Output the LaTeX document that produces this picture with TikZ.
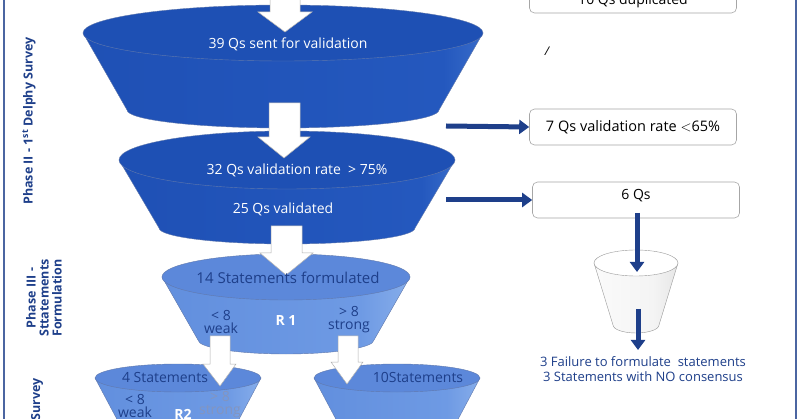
\documentclass[tikz,border=0pt]{standalone}
\usepackage{fontspec}
\setmainfont{Open Sans}
\usetikzlibrary{arrows.meta}
\definecolor{navy}{HTML}{1E3F8A}
\definecolor{dkb}{HTML}{1E50B4}
\definecolor{ltb}{HTML}{5C88DA}
\definecolor{dka}{HTML}{1C4CB0}\definecolor{dkm}{HTML}{2458BE}\definecolor{dkh}{HTML}{6A9CE6}\definecolor{dkw}{HTML}{CFE2FA}\definecolor{dke}{HTML}{3E70CC}
\definecolor{lta}{HTML}{5A88DA}\definecolor{ltm}{HTML}{6E9AE4}\definecolor{lth}{HTML}{A6C6F2}\definecolor{ltw}{HTML}{DDEBFC}\definecolor{lte}{HTML}{7AA4E8}
\definecolor{cpa}{HTML}{FFFFFF}\definecolor{cpm}{HTML}{F4F4F4}\definecolor{cph}{HTML}{D8D8D8}\definecolor{cpe}{HTML}{F0F0F0}
\pgfdeclarehorizontalshading{dkshade}{100bp}{color(0bp)=(dka);color(70bp)=(dkm);color(88bp)=(dkh);color(97bp)=(dkw);color(100bp)=(dke)}
\pgfdeclarehorizontalshading{ltshade}{100bp}{color(0bp)=(lta);color(65bp)=(ltm);color(88bp)=(lth);color(97bp)=(ltw);color(100bp)=(lte)}
\pgfdeclarehorizontalshading{cupshade}{100bp}{color(0bp)=(cpa);color(60bp)=(cpm);color(90bp)=(cph);color(100bp)=(cpe)}
\newcommand\myfunnel[9]{%
  \shade[shading=#8,draw=navy!70,line width=0.4pt]
    ({#1-#3},#2) -- ({#1-#6},#5) arc[start angle=180,end angle=0,x radius=#6,y radius=#7] -- ({#1+#3},#2) -- cycle;
  \fill[#9,draw=navy!70,line width=0.4pt] (#1,#2) ellipse[x radius=#3,y radius=#4];
}
\tikzset{
  wtxt/.style={text=white,font=\fontsize{14}{16}\selectfont},
  ntxt/.style={text=navy,font=\fontsize{14}{13}\selectfont,align=center},
  wbox/.style={draw=gray!70,rounded corners=5pt,fill=white,line width=0.6pt},
  warrow/.style={fill=white,draw=gray!60,line width=0.5pt},
  barrow/.style={draw=navy,line width=5pt,-{Triangle[length=10pt,width=14pt]}},
  side/.style={rotate=90,text=navy,font=\bfseries\fontsize{12.5}{13}\selectfont,align=center},
}
\begin{document}
\begin{tikzpicture}[x=1pt,y=-1pt]
\useasboundingbox (0,0) rectangle (800,419);
\clip (0,0) rectangle (800,419);
\fill[white] (0,0) rectangle (800,419);
\draw[navy!80,line width=2pt] (4,-5) -- (4,425);
\draw[navy!80,line width=2pt] (796,-5) -- (796,425);
% funnels
\myfunnel{283}{33}{200}{28}{110}{156}{18}{dkshade}{dkb}
\myfunnel{287}{160}{168}{29}{228}{128}{16}{dkshade}{dkb}
\myfunnel{286}{277}{124}{23}{340}{88}{14}{ltshade}{ltb}
\myfunnel{178}{378}{83}{14}{440}{50}{10}{ltshade}{ltb}
\myfunnel{397}{378}{83}{14}{440}{50}{10}{ltshade}{ltb}
% cup
\shade[shading=cupshade,draw=gray!80] (594,263) -- (613,325) arc[start angle=180,end angle=0,x radius=23,y radius=8] -- (678,263) -- cycle;
\fill[white,draw=gray!80] (636,263) ellipse[x radius=42,y radius=13];
% white arrows
\draw[warrow] (270,-5) -- (300,-5) -- (300,12) -- (312,12) -- (285,32) -- (258,12) -- (270,12) -- cycle;
\draw[warrow] (269,103) -- (300,103) -- (300,137) -- (310,137) -- (284,158) -- (258,137) -- (269,137) -- cycle;
\draw[warrow] (271,226) -- (302,226) -- (302,253) -- (313,253) -- (286,275) -- (260,253) -- (271,253) -- cycle;
\draw[warrow] (210,336) -- (230,336) -- (230,364) -- (236,364) -- (220,386) -- (203,364) -- (210,364) -- cycle;
\draw[warrow] (338,336) -- (358,336) -- (358,362) -- (363,362) -- (347,384) -- (331,362) -- (338,362) -- cycle;
% funnel texts
\node[wtxt] (t1) at (288,44) {39 Qs sent for validation};
\node[wtxt] (t2) at (297,170) {32 Qs validation rate~ > 75\%};
\node[wtxt] (t3) at (283,209) {25 Qs validated};
\node[ntxt,font=\fontsize{15}{16}\selectfont] (t4) at (288,278) {14 Statements formulated};
\node[ntxt] (t5) at (221,322) {< 8\\weak};
\node[text=white,font=\bfseries\fontsize{14}{14}\selectfont] (r1) at (286,321) {R 1};
\node[ntxt] (t6) at (349,320) {> 8\\strong};
\node[ntxt] (t7) at (165,377) {4 Statements};
\node[ntxt] (t8) at (135,406) {< 8\\weak};
\node[text=white,font=\bfseries\fontsize{14}{14}\selectfont] (r2) at (183,414) {R2};
\node[ntxt,text=navy!55] (t9) at (220,405) {> 8\\strong};
\node[ntxt] (t10) at (418,377) {10Statements};
% right boxes
\node[wbox,minimum width=207pt,minimum height=24pt] (b0) at (633,1) {\fontsize{14}{16}\selectfont 10 Qs duplicated};
\node[wbox,minimum width=207pt,minimum height=36pt,font=\fontsize{14.5}{16}\selectfont] (b1) at (633,127) {7 Qs validation rate $<$65\%};
\node[wbox,minimum width=207pt,minimum height=36pt,font=\fontsize{14}{16}\selectfont,text depth=12pt] (b2) at (636,200) {6 Qs};
\node[font=\itshape\fontsize{12}{12}\selectfont] (sl) at (547,51) {/};
\coordinate (a1s) at (446,126); \coordinate (a2s) at (446,200);
\draw[barrow] (a1s) -- (b1.west);
\draw[barrow] (a2s) -- (b2.west);
\coordinate (c1) at (637,213); \coordinate (c2) at (637,272);
\coordinate (c3) at (638,309); \coordinate (c4) at (638,350);
\draw[barrow] (c1) -- (c2);
\draw[barrow] (c3) -- (c4);
\node[ntxt,font=\fontsize{13}{15}\selectfont] (res) at (643,369) {3 Failure to formulate~ statements\\3 Statements with NO consensus};
% side labels
\node[side] (p2) at (29,121) {Phase II - 1\textsuperscript{st} Delphy Survey};
\node[side] (p3) at (44,298) {Phase III -\\Sttatements\\Formulation};
\node[side,anchor=east] (p4) at (37,375) {Survey};
\end{tikzpicture}
\end{document}
